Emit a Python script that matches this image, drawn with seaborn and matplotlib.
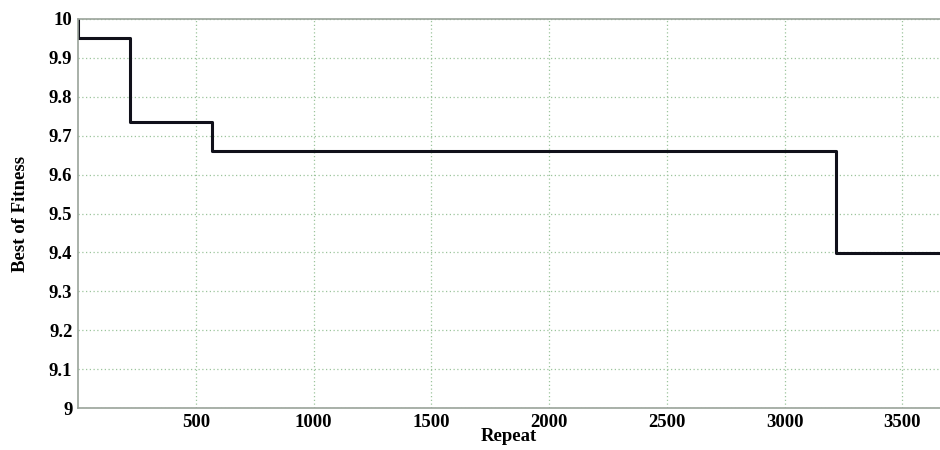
import numpy as np
import pandas as pd
import matplotlib
matplotlib.use("Agg")
import matplotlib.pyplot as plt
import seaborn as sns
from matplotlib.ticker import FormatStrFormatter

# step changes of the best fitness over repeats
repeat = [0, 1, 220, 568, 3220, 3660]
best_fitness = [10.0, 9.95, 9.735, 9.66, 9.398, 9.398]
x_ticks = [500, 1000, 1500, 2000, 2500, 3000, 3500]
y_ticks = [9.0, 9.1, 9.2, 9.3, 9.4, 9.5, 9.6, 9.7, 9.8, 9.9, 10.0]

sns.set_style("white")
plt.rcParams["font.family"] = ["Liberation Serif", "DejaVu Serif"]

df = pd.DataFrame({"Repeat": repeat, "Best of Fitness": best_fitness})

fig = plt.figure(figsize=(9.4, 4.5), dpi=100)
ax = fig.add_axes([0.083, 0.093, 0.917, 0.865])
sns.lineplot(data=df, x="Repeat", y="Best of Fitness", drawstyle="steps-post",
             color="#10101a", linewidth=2.2, ax=ax)

ax.set_xlim(0, 3660)
ax.set_ylim(9, 10)
ax.set_xticks(x_ticks)
ax.set_yticks(y_ticks)
ax.yaxis.set_major_formatter(FormatStrFormatter("%g"))
ax.grid(True, linestyle=(0, (1, 2)), color="#9cc49c", linewidth=0.9)
ax.tick_params(direction="in", length=4, labelsize=13.5, color="#888888",
               labelcolor="black", pad=4)
for lbl in ax.get_xticklabels() + ax.get_yticklabels():
    lbl.set_fontweight("bold")
for side in ["top", "left", "bottom"]:
    ax.spines[side].set_color("#9aa39a")
    ax.spines[side].set_linewidth(1.2)
ax.spines["right"].set_visible(False)
ax.set_xlabel("Repeat", fontsize=13.5, fontweight="bold", labelpad=-2, color="black")
ax.set_ylabel("Best of Fitness", fontsize=13.5, fontweight="bold", labelpad=14, color="black")

plt.savefig("out.png", dpi=100)
plt.close()
